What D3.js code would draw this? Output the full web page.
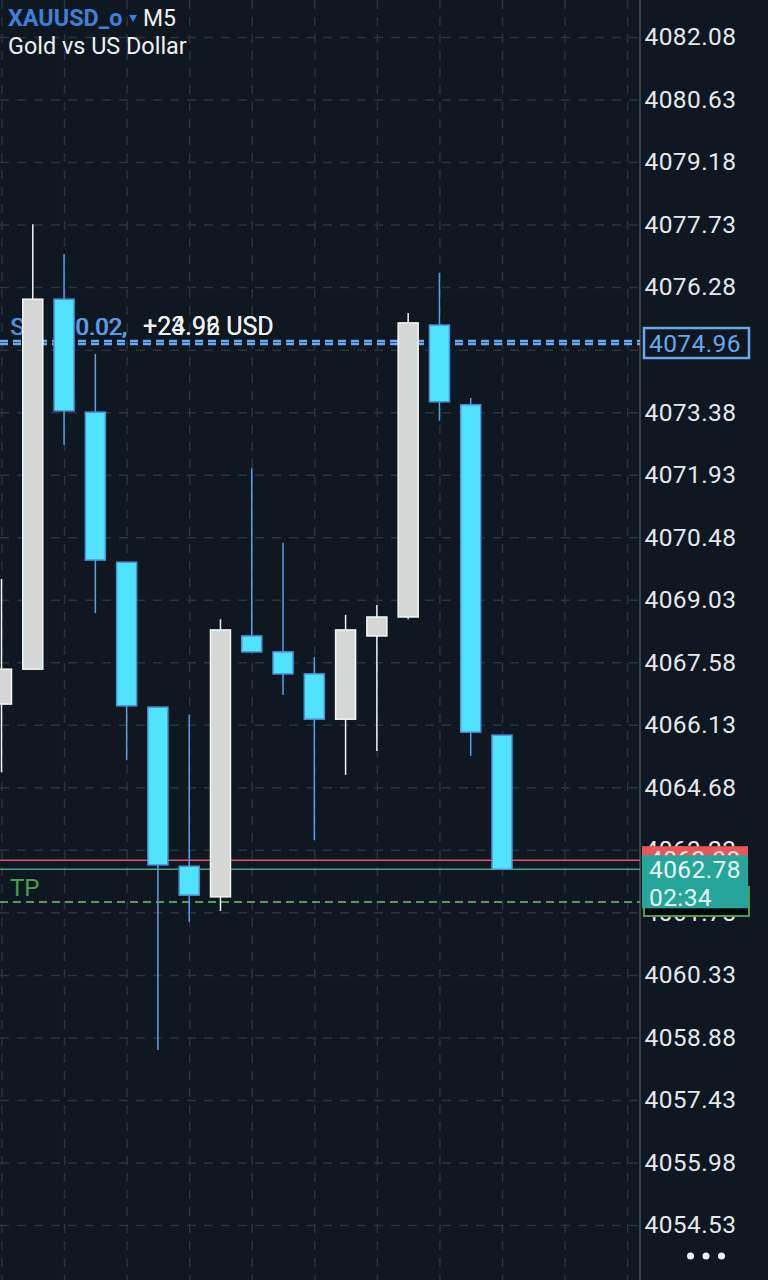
<!DOCTYPE html>
<html>
<head>
<meta charset="utf-8">
<title>XAUUSD_o M5</title>
<script src="https://cdn.jsdelivr.net/npm/d3@7"></script>
<style>
  html, body { margin: 0; padding: 0; background: #0f1720; }
  svg { display: block; font-family: Roboto, sans-serif; }
</style>
</head>
<body>
<div id="chart"></div>
<script>
// candles, oldest first
const opens  = [4066.61, 4067.42, 4076.00, 4073.38, 4069.90, 4066.54, 4062.85, 4062.14, 4068.19, 4067.82, 4067.31, 4066.26, 4068.19, 4068.63, 4075.40, 4073.55, 4065.89];
const highs  = [4069.51, 4077.74, 4077.05, 4074.73, 4069.90, 4066.54, 4066.36, 4068.58, 4072.08, 4070.35, 4067.70, 4068.68, 4068.91, 4075.68, 4076.61, 4073.71, 4065.89];
const lows   = [4065.03, 4067.42, 4072.62, 4068.72, 4065.31, 4058.59, 4061.56, 4061.81, 4067.82, 4066.82, 4063.46, 4064.97, 4065.52, 4068.58, 4073.18, 4065.41, 4062.78];
const closes = [4067.42, 4076.00, 4073.41, 4069.95, 4066.57, 4062.88, 4062.18, 4068.33, 4067.82, 4067.31, 4066.26, 4068.33, 4068.63, 4075.45, 4073.62, 4065.96, 4062.78];

const priceTicks = [4082.08, 4080.63, 4079.18, 4077.73, 4076.28, 4074.83, 4073.38, 4071.93, 4070.48, 4069.03,
                    4067.58, 4066.13, 4064.68, 4063.23, 4061.78, 4060.33, 4058.88, 4057.43, 4055.98, 4054.53];
// the 4074.83 slot is not printed, the position box sits there
const hiddenTicks = [4074.83];
const gridBars = [0, 2, 4, 6, 8, 10, 12, 14, 16, 18, 20];

const entryPrices = [4075.03, 4074.96];
const askPrice = 4062.99;
const bidPrice = 4062.78;
const tpPrice = 4062.02;
const profitLabels = ["+24.96 USD", "+23.92 USD"];
const countdown = "02:34";

const width = 768, height = 1280, plotRight = 640;
const bg = "#0f1720";

const x = d3.scaleLinear().domain([0, 16]).range([1.5, 502]);
const y = d3.scaleLinear().domain([4082.08, 4054.53]).range([37, 1225]);

const svg = d3.select("#chart").append("svg")
    .attr("width", width)
    .attr("height", height);

svg.append("rect").attr("width", width).attr("height", height).attr("fill", bg);

// grid
const gridColor = "#2b333d";
const yGrid = svg.append("g")
    .call(d3.axisLeft(y).tickValues(priceTicks).tickSize(-plotRight).tickFormat(""))
    .call(g => g.select(".domain").remove());
yGrid.selectAll("line").attr("stroke", gridColor).attr("stroke-width", 1.5).attr("stroke-dasharray", "9 8");

const xGrid = svg.append("g")
    .call(d3.axisTop(x).tickValues(gridBars).tickSize(-height).tickFormat(""))
    .call(g => g.select(".domain").remove());
xGrid.selectAll("line").attr("stroke", gridColor).attr("stroke-width", 1.5).attr("stroke-dasharray", "9 8");

svg.append("line")
    .attr("x1", plotRight).attr("x2", plotRight)
    .attr("y1", 0).attr("y2", height)
    .attr("stroke", "#39434e").attr("stroke-width", 2);

// price axis
const yAxis = svg.append("g")
    .attr("transform", `translate(${plotRight},0)`)
    .call(d3.axisRight(y).tickValues(priceTicks.filter(d => !hiddenTicks.includes(d))).tickSize(0).tickPadding(4.5).tickFormat(d3.format(".2f")))
    .call(g => g.select(".domain").remove());
yAxis.selectAll("text")
    .attr("fill", "#e6e9ec")
    .attr("font-size", 24.5)
    .attr("font-family", "Roboto, sans-serif")
    .attr("letter-spacing", 0.4);

// TP box sits on top of the 4061.78 tick
svg.append("rect")
    .attr("x", 644).attr("y", y(tpPrice) - 15).attr("width", 105).attr("height", 29)
    .attr("fill", "#05080b").attr("stroke", "#4f9a55").attr("stroke-width", 2);

// position lines
svg.selectAll(".entry").data(entryPrices).enter().append("line")
    .attr("x1", 0).attr("x2", plotRight)
    .attr("y1", d => y(d)).attr("y2", d => y(d))
    .attr("stroke", "#6aa8f0").attr("stroke-width", 2.6).attr("stroke-dasharray", "8 5");

svg.append("line")
    .attr("x1", 0).attr("x2", plotRight)
    .attr("y1", y(askPrice)).attr("y2", y(askPrice))
    .attr("stroke", "#d9566c").attr("stroke-width", 1.6);
svg.append("line")
    .attr("x1", 0).attr("x2", plotRight)
    .attr("y1", y(bidPrice)).attr("y2", y(bidPrice))
    .attr("stroke", "#4e9d8c").attr("stroke-width", 1.6);
svg.append("line")
    .attr("x1", 0).attr("x2", plotRight)
    .attr("y1", y(tpPrice)).attr("y2", y(tpPrice))
    .attr("stroke", "#74c46f").attr("stroke-width", 1.6).attr("stroke-dasharray", "8 5");

// line captions, the candles cover part of them
[0, 1].forEach(i => {
    svg.append("text").attr("x", 10 + i).attr("y", y(entryPrices[0]) - 6)
        .attr("fill", "#4f8fd8").attr("font-size", 24).text("SL");
    svg.append("text").attr("x", 75 + i).attr("y", y(entryPrices[0]) - 6)
        .attr("fill", "#5d9be0").attr("font-size", 24).text("0.02,");
});
svg.selectAll(".profit").data(profitLabels).enter().append("text")
    .attr("x", 143).attr("y", y(entryPrices[0]) - 6)
    .attr("fill", "#eef1f4").attr("font-size", 25)
    .text(d => d);
svg.append("text").attr("x", 10).attr("y", y(tpPrice) - 6)
    .attr("fill", "#45a24c").attr("font-size", 24).text("TP");

// candles
const bars = opens.map((o, i) => i);
const isUp = i => closes[i] > opens[i];

svg.selectAll(".wick").data(bars).enter().append("line")
    .attr("class", "wick")
    .attr("x1", i => x(i)).attr("x2", i => x(i))
    .attr("y1", i => y(highs[i])).attr("y2", i => y(lows[i]))
    .attr("stroke", i => isUp(i) ? "#f2f4f5" : "#5c9ce8")
    .attr("stroke-width", 1.5);

const bodyWidth = 20;
svg.selectAll(".body").data(bars).enter().append("rect")
    .attr("class", "body")
    .attr("x", i => x(i) - bodyWidth / 2)
    .attr("width", bodyWidth)
    .attr("y", i => y(Math.max(opens[i], closes[i])))
    .attr("height", i => Math.abs(y(opens[i]) - y(closes[i])))
    .attr("fill", i => isUp(i) ? "#d5d6d6" : "#4fe3ff")
    .attr("stroke", i => isUp(i) ? "#f4f5f5" : "#4a93dc")
    .attr("stroke-width", 1.5);

// entry price box
const entryY = y(entryPrices[1]);
svg.append("rect")
    .attr("x", 644).attr("y", entryY - 16).attr("width", 105).attr("height", 30)
    .attr("fill", bg).attr("stroke", "#6aa8ec").attr("stroke-width", 2.5);
svg.append("text")
    .attr("x", 649).attr("y", entryY + 8)
    .attr("fill", "#6aa8ec").attr("font-size", 24.5).attr("letter-spacing", 0.4)
    .text(d3.format(".2f")(entryPrices[1]));

// ask box, then bid box on top
svg.append("rect")
    .attr("x", 642).attr("y", y(askPrice) - 14).attr("width", 106).attr("height", 28)
    .attr("fill", "#e8555a");
svg.append("text")
    .attr("x", 649).attr("y", y(askPrice) + 8)
    .attr("fill", "#f6e6e4").attr("font-size", 24.5).attr("letter-spacing", 0.4)
    .text(d3.format(".2f")(askPrice));
svg.append("rect")
    .attr("x", 642).attr("y", y(bidPrice) - 14).attr("width", 106).attr("height", 53)
    .attr("fill", "#26a69a");
svg.append("text")
    .attr("x", 649).attr("y", y(bidPrice) + 9)
    .attr("fill", "#e4fbf7").attr("font-size", 24.5).attr("letter-spacing", 0.4)
    .text(d3.format(".2f")(bidPrice));
svg.append("text")
    .attr("x", 649).attr("y", y(bidPrice) + 37)
    .attr("fill", "#e4fbf7").attr("font-size", 24.5).attr("letter-spacing", 0.4)
    .text(countdown);

// header
svg.append("text").attr("x", 8).attr("y", 26).attr("font-size", 23.4)
    .attr("fill", "#3f7fd8").attr("font-weight", 700).text("XAUUSD_o");
svg.append("path")
    .attr("d", d3.line()([[129, 15], [137, 15], [133, 22]]) + "Z")
    .attr("fill", "#3f7fd8");
svg.append("text").attr("x", 143).attr("y", 26).attr("font-size", 23).attr("fill", "#eef1f4").text("M5");
svg.append("text").attr("x", 8).attr("y", 54).attr("font-size", 23.4).attr("fill", "#eef1f4").text("Gold vs US Dollar");

// menu dots
svg.selectAll(".dot").data([690.5, 706, 721.5]).enter().append("circle")
    .attr("cx", d => d).attr("cy", 1256).attr("r", 3.5).attr("fill", "#eef2f6");
</script>
</body>
</html>
